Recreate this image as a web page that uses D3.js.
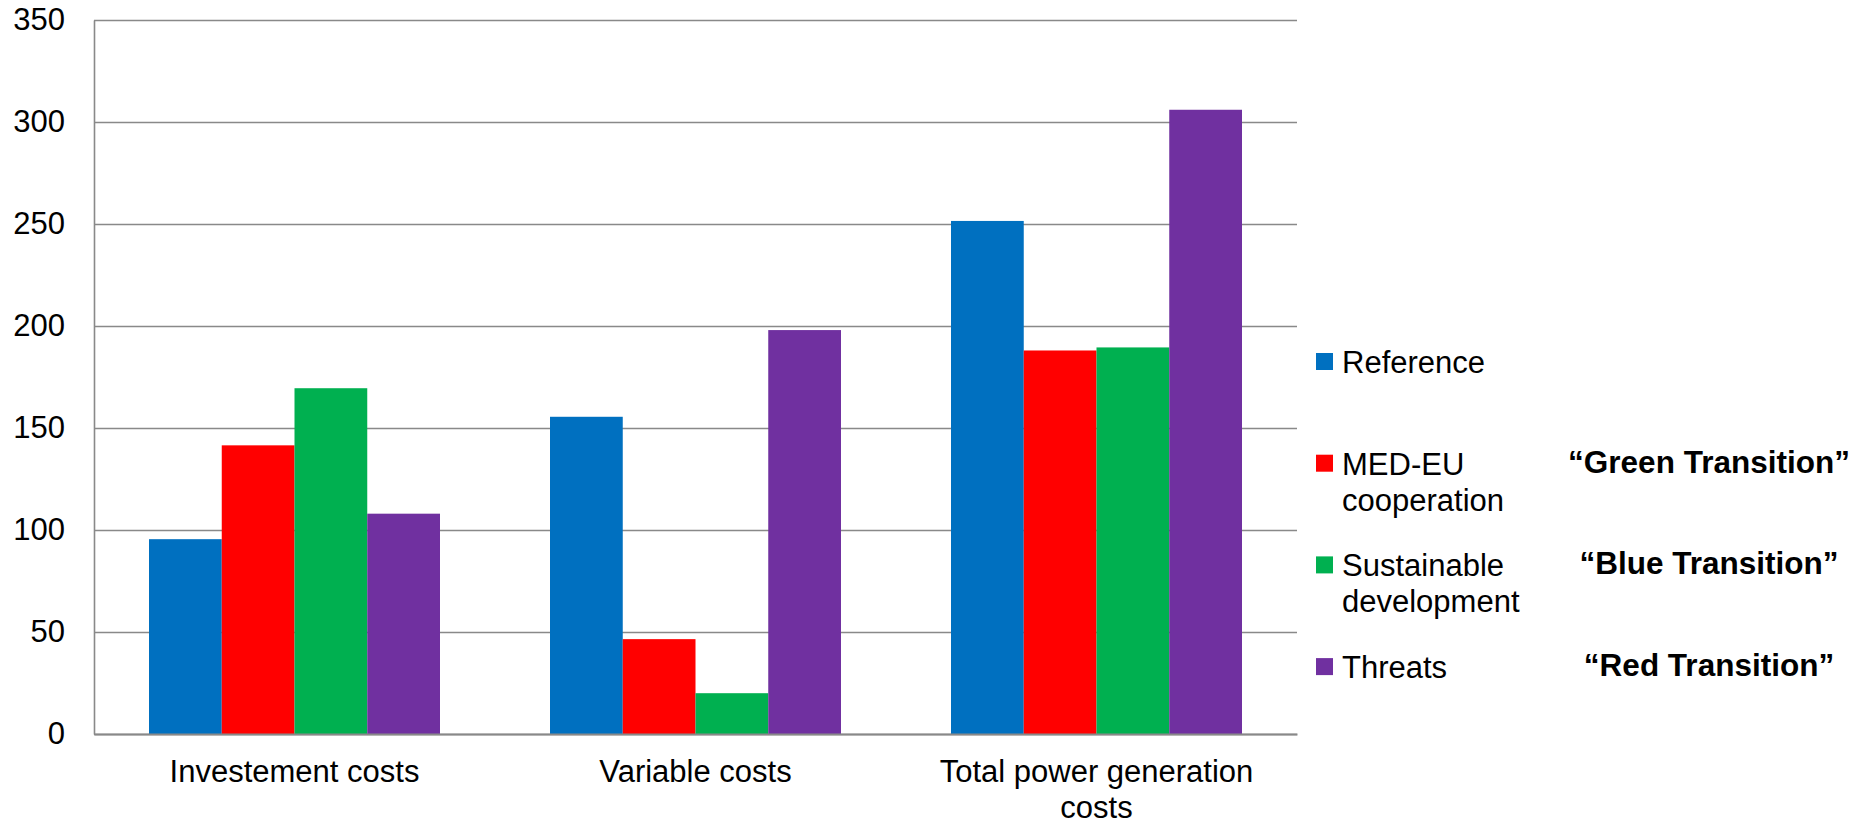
<!DOCTYPE html>
<html>
<head>
<meta charset="utf-8">
<script src="https://cdn.jsdelivr.net/npm/d3@7"></script>
<style>
  html, body { margin: 0; padding: 0; background: #ffffff; }
  #cost-chart { width: 1858px; height: 825px; }
  text { font-family: "Liberation Sans", Arial, sans-serif; fill: #000; }
</style>
</head>
<body>
<div id="cost-chart"></div>
<script>
// categories on the x axis
var categories = ["Investement costs", "Variable costs", "Total power generation costs"];
// scenario names (legend) and the nickname printed next to them
var scenarios = ["Reference", "MED-EU cooperation", "Sustainable development", "Threats"];
var transitions = ["", "\u201cGreen Transition\u201d", "\u201cBlue Transition\u201d", "\u201cRed Transition\u201d"];
var scenarioColors = ["#0070C0", "#FF0000", "#00B050", "#7030A0"];
// values per scenario, one per category
var referenceValues = [95.5, 155.5, 251.5];
var medEuValues = [141.5, 46.5, 188];
var sustainableValues = [169.5, 20, 189.5];
var threatsValues = [108, 198, 306];
var yTicks = [0, 50, 100, 150, 200, 250, 300, 350];

var seriesValues = [referenceValues, medEuValues, sustainableValues, threatsValues];

var margin = {top: 20, right: 561, bottom: 91, left: 94};
var width = 1858 - margin.left - margin.right;
var height = 825 - margin.top - margin.bottom;

var svg = d3.select("#cost-chart").append("svg")
    .attr("width", 1858)
    .attr("height", 825);

var g = svg.append("g")
    .attr("transform", "translate(" + margin.left + "," + margin.top + ")");

// outer scale for cost categories, inner one for the scenarios in each group
var x0 = d3.scaleBand()
    .domain(categories)
    .range([0, width])
    .padding(0);

var x1 = d3.scaleBand()
    .domain(scenarios)
    .range([0, x0.bandwidth()])
    .paddingInner(0)
    .paddingOuter(0.756);

var y = d3.scaleLinear()
    .domain([0, 350])
    .range([height, 0]);

// y axis with the grid lines drawn as long ticks
var yAxis = g.append("g")
    .attr("class", "y-axis")
    .call(d3.axisLeft(y)
        .tickValues(yTicks)
        .tickSizeInner(-width)
        .tickSizeOuter(0)
        .tickPadding(29));

yAxis.selectAll("line").attr("stroke", "#898989").attr("stroke-width", 1.6);
yAxis.select(".domain").attr("stroke", "#898989").attr("stroke-width", 1.6);
yAxis.selectAll("text")
    .style("font-size", "31px")
    .attr("fill", "#000");

// bars
var groups = g.selectAll(".cat-group")
    .data(categories)
    .enter()
    .append("g")
    .attr("class", "cat-group")
    .attr("transform", function(d) { return "translate(" + x0(d) + ",0)"; });

groups.selectAll("rect")
    .data(function(cat, ci) {
      return scenarios.map(function(s, si) {
        return {scenario: s, value: seriesValues[si][ci], color: scenarioColors[si]};
      });
    })
    .enter()
    .append("rect")
    .attr("x", function(d) { return x1(d.scenario); })
    .attr("y", function(d) { return y(d.value); })
    .attr("width", x1.bandwidth())
    .attr("height", function(d) { return height - y(d.value); })
    .attr("fill", function(d) { return d.color; });

// x axis (drawn after bars so the base line stays on top)
var xAxis = g.append("g")
    .attr("class", "x-axis")
    .attr("transform", "translate(0," + height + ")")
    .call(d3.axisBottom(x0).tickSize(0).tickPadding(0));

xAxis.select(".domain").attr("stroke", "#898989").attr("stroke-width", 1.8);
xAxis.selectAll("text")
    .style("font-size", "31px")
    .attr("fill", "#000")
    .attr("dy", null)
    .attr("y", 48)
    .call(wrap, x0.bandwidth() - 40, 36);

// legend
var legend = svg.append("g").attr("class", "legend");

var items = legend.selectAll(".legend-item")
    .data(scenarios)
    .enter()
    .append("g")
    .attr("class", "legend-item")
    .attr("transform", function(d, i) { return "translate(1316," + (373 + i * 101.7) + ")"; });

items.append("rect")
    .attr("x", 0)
    .attr("y", -20)
    .attr("width", 17)
    .attr("height", 17)
    .attr("fill", function(d, i) { return scenarioColors[i]; });

items.append("text")
    .attr("x", 26)
    .attr("y", 0)
    .style("font-size", "31px")
    .text(function(d) { return d; })
    .call(wrap, 200, 36);

// scenario nicknames, centred in the column right of the legend
items.append("text")
    .attr("x", 393)
    .attr("y", -2)
    .attr("text-anchor", "middle")
    .style("font-size", "31.5px")
    .style("font-weight", "bold")
    .text(function(d, i) { return transitions[i]; });

/**
 * breaks a text element into tspans so that no line is wider than maxWidth
 */
function wrap(selection, maxWidth, lineHeight) {
  selection.each(function() {
    var text = d3.select(this);
    var words = text.text().split(/\s+/);
    var xPos = text.attr("x") || 0;
    var yPos = text.attr("y") || 0;
    text.text(null);
    var line = [];
    var lineNo = 0;
    var tspan = text.append("tspan").attr("x", xPos).attr("y", yPos);
    words.forEach(function(word) {
      line.push(word);
      tspan.text(line.join(" "));
      if (tspan.node().getComputedTextLength() > maxWidth && line.length > 1) {
        line.pop();
        tspan.text(line.join(" "));
        line = [word];
        lineNo++;
        tspan = text.append("tspan")
            .attr("x", xPos)
            .attr("y", +yPos + lineNo * lineHeight)
            .text(word);
      }
    });
  });
} // end wrap()
</script>
</body>
</html>
